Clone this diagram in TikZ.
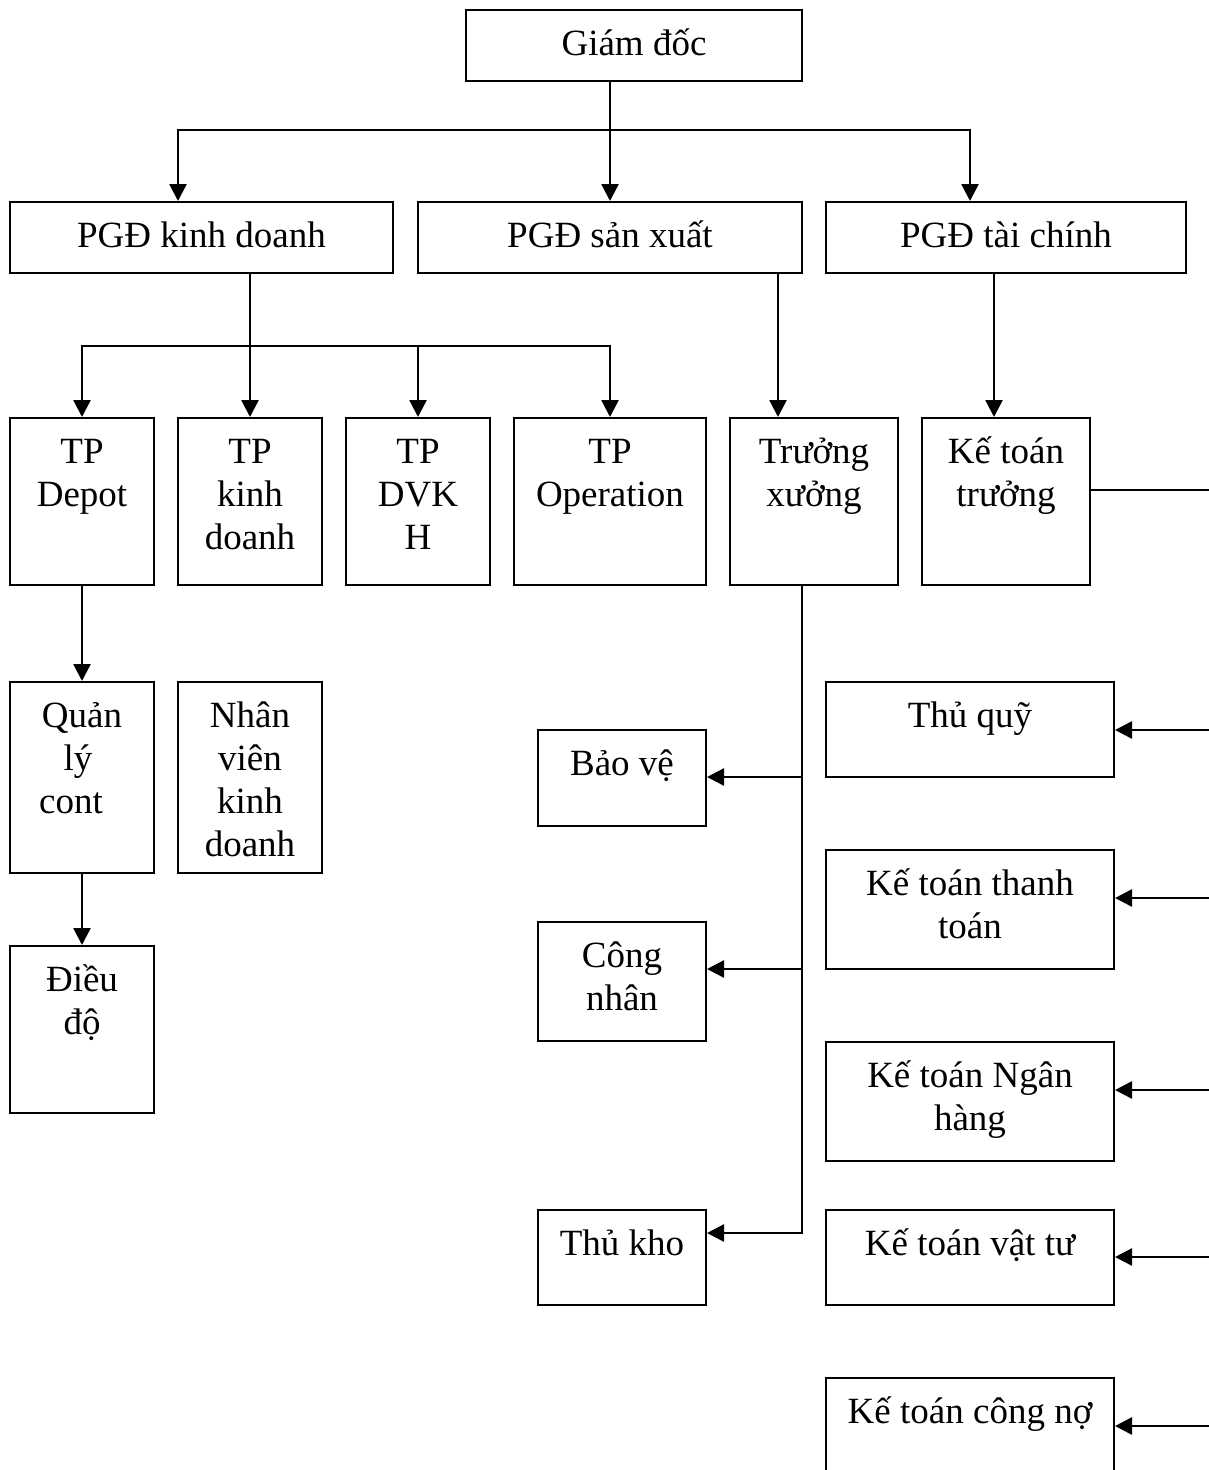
\documentclass[tikz,border=0pt]{standalone}
\usepackage{fontspec}
\setmainfont{Liberation Serif}
\usetikzlibrary{arrows.meta}
\newcommand{\topstrut}{\rule{0pt}{40pt}}
\newcommand{\boxfont}{\fontsize{37}{43}\selectfont\lineskiplimit=-1000pt\relax}
\begin{document}
\begin{tikzpicture}[x=1pt,y=-1pt,
  box/.style={draw, line width=2pt, rectangle, inner sep=0pt},
  lbl/.style={anchor=north, inner sep=0pt, align=center, font=\boxfont},
  conn/.style={line width=2.5pt},
  arr/.style={line width=2.5pt, -{Triangle[length=17pt,width=17pt]}}]
\useasboundingbox (0,0) rectangle (1209,1470);
\clip (0,0) rectangle (1209,1470);

% ---- boxes ----
\node[box, minimum width=336, minimum height=71] (gd) at (634,45.5) {};
\node[box, minimum width=383, minimum height=71] (pgdkd) at (201.5,237.5) {};
\node[box, minimum width=384, minimum height=71] (pgdsx) at (610,237.5) {};
\node[box, minimum width=360, minimum height=71] (pgdtc) at (1006,237.5) {};

\node[box, minimum width=144, minimum height=167] (depot) at (82,501.5) {};
\node[box, minimum width=144, minimum height=167] (tpkd) at (250,501.5) {};
\node[box, minimum width=144, minimum height=167] (dvkh) at (418,501.5) {};
\node[box, minimum width=192, minimum height=167] (oper) at (610,501.5) {};
\node[box, minimum width=168, minimum height=167] (tx) at (814,501.5) {};
\node[box, minimum width=168, minimum height=167] (ktt) at (1006,501.5) {};

\node[box, minimum width=144, minimum height=191] (qlc) at (82,777.5) {};
\node[box, minimum width=144, minimum height=191] (nvkd) at (250,777.5) {};
\node[box, minimum width=144, minimum height=167] (dd) at (82,1029.5) {};

\node[box, minimum width=168, minimum height=96] (bv) at (622,778) {};
\node[box, minimum width=168, minimum height=119] (cn) at (622,981.5) {};
\node[box, minimum width=168, minimum height=95] (tk) at (622,1257.5) {};

\node[box, minimum width=288, minimum height=95] (tq) at (970,729.5) {};
\node[box, minimum width=288, minimum height=119] (kttt) at (970,909.5) {};
\node[box, minimum width=288, minimum height=119] (ktnh) at (970,1101.5) {};
\node[box, minimum width=288, minimum height=95] (ktvt) at (970,1257.5) {};
\node[box, minimum width=288, minimum height=120] (ktcn) at (970,1438) {};

% ---- labels ----
\node[lbl] at ([yshift=-6pt]gd.north) {\topstrut Giám đốc};
\node[lbl] at ([yshift=-6pt]pgdkd.north) {\topstrut PGĐ kinh doanh};
\node[lbl] at ([yshift=-6pt]pgdsx.north) {\topstrut PGĐ sản xuất};
\node[lbl] at ([yshift=-6pt]pgdtc.north) {\topstrut PGĐ tài chính};
\node[lbl] at ([yshift=-6pt]depot.north) {\topstrut TP\\Depot};
\node[lbl] at ([yshift=-6pt]tpkd.north) {\topstrut TP\\kinh\\doanh};
\node[lbl] at ([yshift=-6pt]dvkh.north) {\topstrut TP\\DVK\\H};
\node[lbl] at ([yshift=-6pt]oper.north) {\topstrut TP\\Operation};
\node[lbl] at ([yshift=-6pt]tx.north) {\topstrut Trưởng\\xưởng};
\node[lbl] at ([yshift=-6pt]ktt.north) {\topstrut Kế toán\\trưởng};
\node[lbl] at ([yshift=-6pt]qlc.north) {\topstrut Quản\\lý\kern8pt\\cont\kern22pt};
\node[lbl] at ([yshift=-6pt]nvkd.north) {\topstrut Nhân\\viên\\kinh\\doanh};
\node[lbl] at ([yshift=-6pt]dd.north) {\topstrut Điều\\độ};
\node[lbl] at ([yshift=-6pt]bv.north) {\topstrut Bảo vệ};
\node[lbl] at ([yshift=-6pt]cn.north) {\topstrut Công\\nhân};
\node[lbl] at ([yshift=-6pt]tk.north) {\topstrut Thủ kho};
\node[lbl] at ([yshift=-6pt]tq.north) {\topstrut Thủ quỹ};
\node[lbl] at ([yshift=-6pt]kttt.north) {\topstrut Kế toán thanh\\toán};
\node[lbl] at ([yshift=-6pt]ktnh.north) {\topstrut Kế toán Ngân\\hàng};
\node[lbl] at ([yshift=-6pt]ktvt.north) {\topstrut Kế toán vật tư};
\node[lbl] at ([yshift=-6pt]ktcn.north) {\topstrut Kế toán công nợ};

% ---- Giám đốc to the three deputies ----
\coordinate (busA) at (178,130);
\coordinate (busC) at (970,130);
\draw[conn, line cap=rect] (busA) -- (busC);
\draw[arr] (gd.south -| pgdsx.north) -- (pgdsx.north);
\draw[arr] (busA) -- (busA |- pgdkd.north);
\draw[arr] (busC) -- (busC |- pgdtc.north);

% ---- PGĐ kinh doanh to its departments ----
\coordinate (busK) at (82,346);
\draw[conn, line cap=rect] (busK) -- (busK -| oper.north);
\draw[arr] (pgdkd.south -| tpkd.north) -- (tpkd.north);
\draw[arr] (busK) -- (depot.north);
\draw[arr] (busK -| dvkh.north) -- (dvkh.north);
\draw[arr] (busK -| oper.north) -- (oper.north);

% ---- production and finance branches ----
\coordinate (sxdrop) at (778,0);
\draw[arr] (pgdsx.south -| sxdrop) -- (tx.north -| sxdrop);
\coordinate (tcdrop) at (994,0);
\draw[arr] (pgdtc.south -| tcdrop) -- (ktt.north -| tcdrop);

% ---- depot chain ----
\draw[arr] (depot.south) -- (qlc.north);
\draw[arr] (qlc.south) -- (dd.north);

% ---- workshop bus ----
\coordinate (wbus) at (802,1233);
\draw[conn, line cap=rect] (tx.south -| wbus) -- (wbus);
\coordinate (w1) at (802,777);
\coordinate (w2) at (802,969);
\draw[arr] (w1) -- (w1 -| bv.east);
\draw[arr] (w2) -- (w2 -| cn.east);
\draw[arr] (wbus) -- (wbus -| tk.east);

% ---- chief accountant bus ----
\coordinate (rbus) at (1225,490);
\coordinate (rend) at (1225,1426);
\draw[conn] (ktt.east |- rbus) -- (rbus) -- (rend);
\coordinate (r1) at (1225,730);
\coordinate (r2) at (1225,898);
\coordinate (r3) at (1225,1090);
\coordinate (r4) at (1225,1257);
\draw[arr] (r1) -- (r1 -| tq.east);
\draw[arr] (r2) -- (r2 -| kttt.east);
\draw[arr] (r3) -- (r3 -| ktnh.east);
\draw[arr] (r4) -- (r4 -| ktvt.east);
\draw[arr] (rend) -- (rend -| ktcn.east);
\end{tikzpicture}
\end{document}
